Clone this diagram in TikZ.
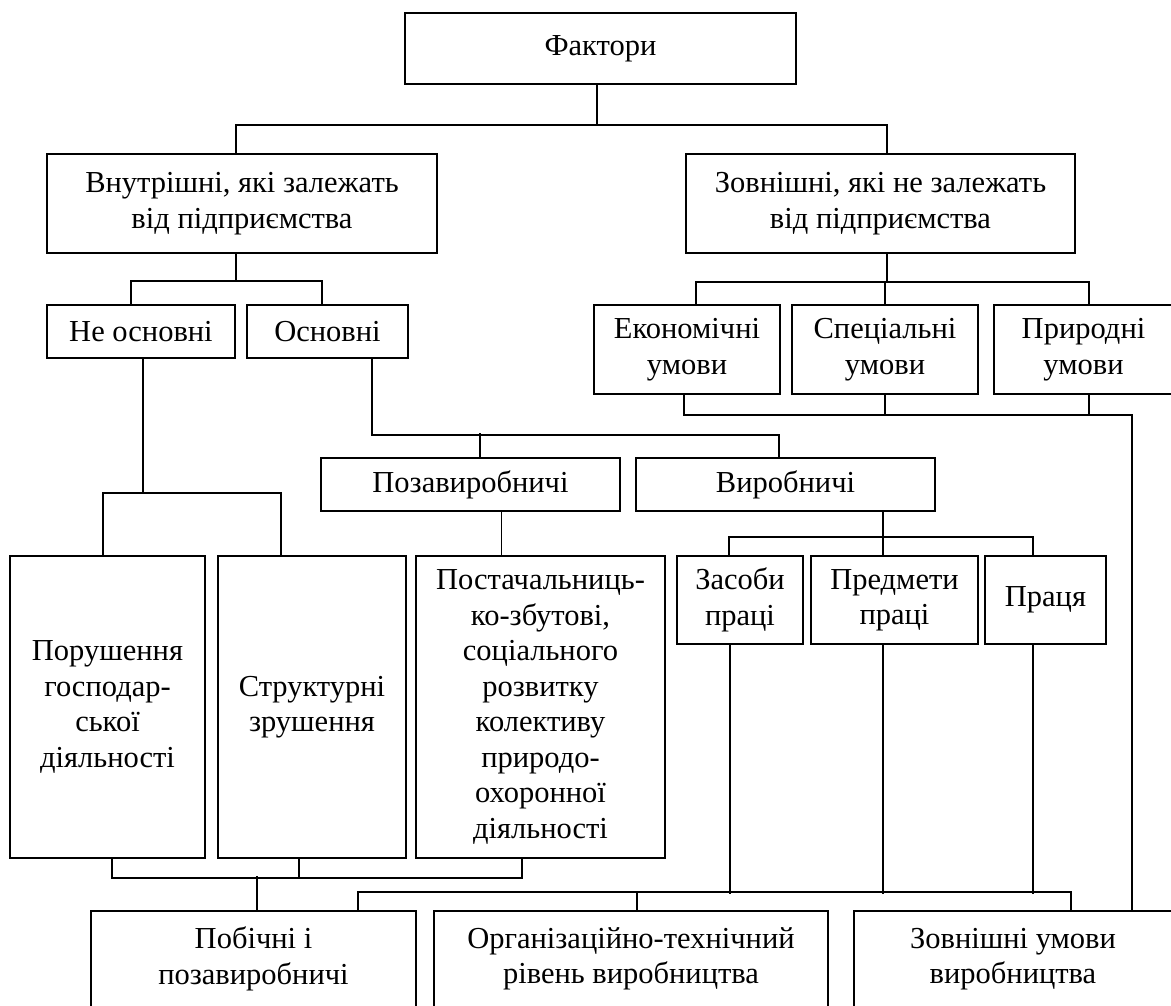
\documentclass[tikz,border=0pt]{standalone}
\usepackage{fontspec}
\setmainfont{Liberation Serif}
\begin{document}
\begin{tikzpicture}[x=1pt,y=-1pt,
  box/.style={draw, line width=1.8pt, inner sep=0pt, align=center, font=\fontsize{30.5}{35.5}\selectfont},
  conn/.style={line width=1.8pt}]
\fill[white] (0,0) rectangle (1171,1005);
\useasboundingbox (0,0) rectangle (1171,1005);

\node[box, minimum width=391pt, minimum height=71pt] (fak) at (600.5,48.5) {Фактори};
\node[box, minimum width=390pt, minimum height=99pt] (vnut) at (242,203.5) {Внутрішні, які залежать\\від підприємства};
\node[box, minimum width=389pt, minimum height=99pt] (zovn) at (880.5,203.5) {Зовнішні, які не залежать\\від підприємства};
\node[box, minimum width=188pt, minimum height=53pt] (neosn) at (141,331.5) {Не основні};
\node[box, minimum width=161pt, minimum height=53pt] (osn) at (327.5,331.5) {Основні};
\node[box, minimum width=186pt, minimum height=89pt] (ekon) at (687,349.5) {Економічні\\умови};
\node[box, minimum width=186pt, minimum height=89pt] (spec) at (885,349.5) {Спеціальні\\умови};
\node[box, minimum width=179pt, minimum height=89pt] (pryr) at (1083.5,349.5) {Природні\\умови};
\node[box, minimum width=299pt, minimum height=53pt] (pozav) at (470.5,484.5) {Позавиробничі};
\node[box, minimum width=299pt, minimum height=53pt] (vyrob) at (785.5,484.5) {Виробничі};
\node[box, minimum width=195pt, minimum height=302pt] (porush) at (107.5,707) {Порушення\\господар-\\ської\\діяльності};
\node[box, minimum width=188pt, minimum height=302pt] (strukt) at (312,707) {Структурні\\зрушення};
\node[box, minimum width=249pt, minimum height=302pt] (postach) at (540.5,707) {Постачальниць-\\ко-збутові,\\соціального\\розвитку\\колективу\\природо-\\охоронної\\діяльності};
\node[box, minimum width=126pt, minimum height=88pt] (zasoby) at (740,600) {Засоби\\праці};
\node[box, minimum width=167pt, minimum height=88pt] (predm) at (894.5,600) {Предмети\\праці};
\node[box, minimum width=121pt, minimum height=88pt] (pratsia) at (1045.5,600) {Праця};
\node[box, minimum width=325pt, minimum height=96pt] (pobich) at (253.5,959) {Побічні і\\позавиробничі};
\node[box, minimum width=394pt, minimum height=96pt] (org) at (631,959) {Організаційно-технічний\\рівень виробництва};
\node[box, minimum width=318pt, minimum height=96pt] (zovnum) at (1013,959) {Зовнішні умови\\виробництва};

% level 1
\draw[conn] ([xshift=-3.5pt]fak.south) -- ++(0,40) coordinate (j1);
\draw[conn] ([xshift=-6pt]vnut.north) |- (j1) -| ([xshift=6.5pt]zovn.north);
% internal
\draw[conn] ([xshift=-6pt]vnut.south) -- ++(0,27) coordinate (j2);
\draw[conn] ([xshift=-10pt]neosn.north) |- (j2) -| ([xshift=-5.5pt]osn.north);
% external
\draw[conn] ([xshift=6.5pt]zovn.south) -- ++(0,28) coordinate (j3);
\draw[conn] ([xshift=9pt]ekon.north) |- (j3) -| ([xshift=5.5pt]pryr.north);
\draw[conn] (spec.north) -- (spec.north |- j3);
\draw[conn] ([xshift=-3pt]ekon.south) -- ++(0,20) -| ([xshift=119pt]zovnum.north);
\draw[conn] (spec.south) -- ++(0,20);
\draw[conn] ([xshift=5.5pt]pryr.south) -- ++(0,20);
% not main
\draw[conn] ([xshift=2pt]neosn.south) -- ++(0,134) coordinate (j5);
\draw[conn] ([xshift=-4.5pt]porush.north) |- (j5) -| ([xshift=-31pt]strukt.north);
% main
\draw[conn] ([xshift=44.5pt]osn.south) -- ++(0,76) -| ([xshift=-6.5pt]vyrob.north);
\draw[conn] ([xshift=9.5pt]pozav.north) -- ++(0,-24);
\draw[conn] ([xshift=31pt]pozav.south) -- ([xshift=-39pt]postach.north);
% production
\draw[conn] ([xshift=97.5pt]vyrob.south) -- ++(0,25) coordinate (j8);
\draw[conn] ([xshift=-11pt]zasoby.north) |- (j8) -| ([xshift=-12.5pt]pratsia.north);
\draw[conn] ([xshift=-11.5pt]predm.north) -- ++(0,-20);
% bottom left group
\draw[conn] ([xshift=4.5pt]porush.south) -- ++(0,19) -| ([xshift=-18.5pt]postach.south);
\draw[conn] ([xshift=-13pt]strukt.south) -- ++(0,19);
\draw[conn] ([xshift=3.5pt]pobich.north) -- ++(0,-34);
% bottom right group
\draw[conn] ([xshift=104.5pt]pobich.north) -- ++(0,-18) -| ([xshift=58pt]zovnum.north);
\draw[conn] ([xshift=6pt]org.north) -- ++(0,-18);
\draw[conn] ([xshift=-10pt]zasoby.south) -- ++(0,249);
\draw[conn] ([xshift=-11.5pt]predm.south) -- ++(0,249);
\draw[conn] ([xshift=-12.5pt]pratsia.south) -- ++(0,249);
\end{tikzpicture}
\end{document}
